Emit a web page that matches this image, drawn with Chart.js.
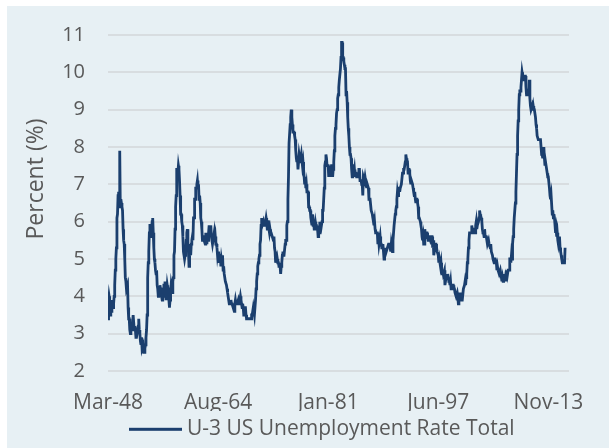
<!DOCTYPE html>
<html>
<head>
<meta charset="utf-8">
<script src="https://cdn.jsdelivr.net/npm/chart.js@4"></script>
<style>
  html, body { margin: 0; padding: 0; background: #ffffff; overflow: hidden; }
  #wrap { position: absolute; left: 7px; top: 6px; width: 602px; height: 442px; background: #e7f0f4; }
  canvas { display: block; }
</style>
</head>
<body>
<div id="wrap"><canvas id="chart" width="602" height="442"></canvas></div>
<script>
// monthly U-3 rate, seasonally adjusted, starting Jan 1948
const rate1940s = [
  3.4,3.8,4.0,3.9,3.5,3.6,3.6,3.9,3.8,3.7,3.8,4.0,
  4.3,4.7,5.0,5.3,6.1,6.2,6.7,6.8,6.6,7.9,6.4,6.6
];
const rate1950s = [
  6.5,6.4,6.3,5.8,5.5,5.4,5.0,4.5,4.4,4.2,4.2,4.3,
  3.7,3.4,3.4,3.1,3.0,3.2,3.1,3.1,3.3,3.5,3.5,3.1,
  3.2,3.1,2.9,2.9,3.0,3.0,3.2,3.4,3.1,3.0,2.8,2.7,
  2.9,2.6,2.6,2.7,2.5,2.5,2.6,2.7,2.9,3.1,3.5,4.5,
  4.9,5.2,5.7,5.9,5.9,5.6,5.8,6.0,6.1,5.7,5.3,5.0,
  4.9,4.7,4.6,4.7,4.3,4.2,4.0,4.2,4.1,4.3,4.2,4.2,
  4.0,3.9,4.2,4.0,4.3,4.3,4.4,4.1,3.9,3.9,4.3,4.2,
  4.2,3.9,3.7,3.9,4.1,4.3,4.2,4.1,4.4,4.5,5.1,5.2,
  5.8,6.4,6.7,7.4,7.4,7.3,7.5,7.4,7.1,6.7,6.2,6.2,
  6.0,5.9,5.6,5.2,5.1,5.0,5.1,5.2,5.5,5.7,5.8,5.3
];
const rate1960s = [
  5.2,4.8,5.4,5.2,5.1,5.4,5.5,5.6,5.5,6.1,6.1,6.6,
  6.6,6.9,6.9,7.0,7.1,6.9,7.0,6.6,6.7,6.5,6.1,6.0,
  5.8,5.5,5.6,5.6,5.5,5.5,5.4,5.7,5.6,5.4,5.7,5.5,
  5.7,5.9,5.7,5.7,5.9,5.6,5.6,5.4,5.5,5.5,5.7,5.5,
  5.6,5.4,5.4,5.3,5.1,5.2,4.9,5.0,5.1,5.1,4.8,5.0,
  4.9,5.1,4.7,4.8,4.6,4.6,4.4,4.4,4.3,4.2,4.1,4.0,
  4.0,3.8,3.8,3.8,3.9,3.8,3.8,3.8,3.7,3.7,3.6,3.8,
  3.9,3.8,3.8,3.8,3.8,3.9,3.8,3.8,3.8,4.0,3.9,3.8,
  3.7,3.8,3.7,3.5,3.5,3.7,3.7,3.5,3.4,3.4,3.4,3.4,
  3.4,3.4,3.4,3.4,3.4,3.5,3.5,3.5,3.7,3.7,3.5,3.5
];
const rate1970s = [
  3.9,4.2,4.4,4.6,4.8,4.9,5.0,5.1,5.4,5.5,5.9,6.1,
  5.9,5.9,6.0,5.9,5.9,5.9,6.0,6.1,6.0,5.8,6.0,6.0,
  5.8,5.7,5.8,5.7,5.7,5.7,5.6,5.6,5.5,5.6,5.3,5.2,
  4.9,5.0,4.9,5.0,4.9,4.9,4.8,4.8,4.8,4.6,4.8,4.9,
  5.1,5.2,5.1,5.1,5.1,5.4,5.5,5.5,5.9,6.0,6.6,7.2,
  8.1,8.1,8.6,8.8,9.0,8.8,8.6,8.4,8.4,8.4,8.3,8.2,
  7.9,7.7,7.6,7.7,7.4,7.6,7.8,7.8,7.6,7.7,7.8,7.8,
  7.5,7.6,7.4,7.2,7.0,7.2,6.9,7.0,6.8,6.8,6.8,6.4,
  6.4,6.3,6.3,6.1,6.0,5.9,6.2,5.9,6.0,5.8,5.9,6.0,
  5.9,5.9,5.8,5.8,5.6,5.7,5.7,6.0,5.9,6.0,5.9,6.0
];
const rate1980s = [
  6.3,6.3,6.3,6.9,7.5,7.6,7.8,7.7,7.5,7.5,7.5,7.2,
  7.5,7.4,7.4,7.2,7.5,7.5,7.2,7.4,7.6,7.9,8.3,8.5,
  8.6,8.9,9.0,9.3,9.4,9.6,9.8,9.8,10.1,10.4,10.8,10.8,
  10.4,10.4,10.3,10.2,10.1,10.1,9.4,9.5,9.2,8.8,8.5,8.3,
  8.0,7.8,7.8,7.7,7.4,7.2,7.5,7.5,7.3,7.4,7.2,7.3,
  7.3,7.2,7.2,7.3,7.2,7.4,7.4,7.1,7.1,7.1,7.0,7.0,
  6.7,7.2,7.2,7.1,7.2,7.2,7.0,6.9,7.0,7.0,6.9,6.6,
  6.6,6.6,6.6,6.3,6.3,6.2,6.1,6.0,5.9,6.0,5.8,5.7,
  5.7,5.7,5.7,5.4,5.6,5.4,5.4,5.6,5.4,5.4,5.3,5.3,
  5.4,5.2,5.0,5.2,5.2,5.3,5.2,5.2,5.3,5.3,5.4,5.4
];
const rate1990s = [
  5.4,5.3,5.2,5.4,5.4,5.2,5.5,5.7,5.9,5.9,6.2,6.3,
  6.4,6.6,6.8,6.7,6.9,6.9,6.8,6.9,6.9,7.0,7.0,7.3,
  7.3,7.4,7.4,7.4,7.6,7.8,7.7,7.6,7.6,7.3,7.4,7.4,
  7.3,7.1,7.0,7.1,7.1,7.0,6.9,6.8,6.7,6.8,6.6,6.5,
  6.6,6.6,6.5,6.4,6.1,6.1,6.1,6.0,5.9,5.8,5.6,5.5,
  5.6,5.4,5.4,5.8,5.6,5.6,5.7,5.7,5.6,5.5,5.6,5.6,
  5.6,5.5,5.5,5.6,5.6,5.3,5.5,5.1,5.2,5.2,5.4,5.4,
  5.3,5.2,5.2,5.1,4.9,5.0,4.9,4.8,4.9,4.7,4.6,4.7,
  4.6,4.6,4.7,4.3,4.4,4.5,4.5,4.5,4.6,4.5,4.4,4.4,
  4.3,4.4,4.2,4.3,4.2,4.3,4.3,4.2,4.2,4.1,4.1,4.0
];
const rate2000s = [
  4.0,4.1,4.0,3.8,4.0,4.0,4.0,4.1,3.9,3.9,3.9,3.9,
  4.2,4.2,4.3,4.4,4.3,4.5,4.6,4.9,5.0,5.3,5.5,5.7,
  5.7,5.7,5.7,5.9,5.8,5.8,5.8,5.7,5.7,5.7,5.9,6.0,
  5.8,5.9,5.9,6.0,6.1,6.3,6.2,6.1,6.1,6.0,5.8,5.7,
  5.7,5.6,5.8,5.6,5.6,5.6,5.5,5.4,5.4,5.5,5.4,5.4,
  5.3,5.4,5.2,5.2,5.1,5.0,5.0,4.9,5.0,5.0,5.0,4.9,
  4.7,4.8,4.7,4.7,4.6,4.6,4.7,4.7,4.5,4.4,4.5,4.4,
  4.6,4.5,4.4,4.5,4.4,4.6,4.7,4.6,4.7,4.7,4.7,5.0,
  5.0,4.9,5.1,5.0,5.4,5.6,5.8,6.1,6.1,6.5,6.8,7.3,
  7.8,8.3,8.7,9.0,9.4,9.5,9.5,9.6,9.8,10.0,9.9,9.9
];
const rate2010s = [
  9.8,9.8,9.9,9.9,9.6,9.4,9.4,9.5,9.5,9.4,9.8,9.3,
  9.1,9.0,9.0,9.1,9.0,9.1,9.0,9.0,9.0,8.8,8.6,8.5,
  8.3,8.3,8.2,8.2,8.2,8.2,8.2,8.0,7.8,7.8,7.7,7.9,
  8.0,7.7,7.5,7.6,7.5,7.5,7.3,7.2,7.2,7.2,6.9,6.7,
  6.6,6.7,6.7,6.2,6.3,6.1,6.2,6.1,5.9,5.7,5.8,5.6,
  5.7,5.5,5.4,5.4,5.6,5.3,5.2,5.1,5.0,4.9,4.9,4.9,
  4.9,4.9,5.3
];

const rates = [].concat(rate1940s, rate1950s, rate1960s, rate1970s, rate1980s, rate1990s, rate2000s, rate2010s);

// x tick positions (month index from first observation) and their labels
const tickIndex = [0, 197, 394, 591, 788];
const tickLabels = ['Mar-48', 'Aug-64', 'Jan-81', 'Jun-97', 'Nov-13'];

const yTicks = [2, 3, 4, 5, 6, 7, 8, 9, 10, 11];

const seriesName = 'U-3 US Unemployment Rate Total';
const axisTitle = 'Percent (%)';

const points = rates.map((v, i) => ({ x: i, y: v }));

const lineColor = '#1b3f6e';
const textGrey = '#595959';
const fontFamily = '"Open Sans", sans-serif';

// y title sits a bit above the axis middle, and the legend is offset to the right,
// so both are drawn here instead of by the built-in title/legend
const extrasPlugin = {
  id: 'extras',
  afterDraw(chart) {
    const ctx = chart.ctx;
    ctx.save();
    ctx.fillStyle = textGrey;
    ctx.font = '23px ' + fontFamily;
    ctx.textAlign = 'center';
    ctx.textBaseline = 'middle';
    ctx.translate(29, 173);
    ctx.rotate(-Math.PI / 2);
    ctx.fillText(axisTitle, 0, 0);
    ctx.restore();

    ctx.save();
    ctx.fillStyle = lineColor;
    ctx.fillRect(122, 421.8, 53, 3);
    ctx.fillStyle = textGrey;
    ctx.font = '21px ' + fontFamily;
    ctx.textAlign = 'left';
    ctx.textBaseline = 'middle';
    ctx.fillText(seriesName, 180, 423);
    ctx.restore();
  }
};

new Chart(document.getElementById('chart'), {
  type: 'line',
  data: {
    datasets: [{
      label: seriesName,
      data: points,
      borderColor: lineColor,
      backgroundColor: lineColor,
      borderWidth: 2.8,
      pointRadius: 0,
      tension: 0
    }]
  },
  options: {
    responsive: false,
    animation: false,
    layout: { padding: { left: 0, right: 40, top: 29, bottom: 37 } },
    plugins: {
      tooltip: { enabled: false },
      legend: { display: false }
    },
    scales: {
      x: {
        type: 'linear',
        min: 0,
        max: 825,
        grid: { display: false },
        border: { display: false },
        afterFit: (scale) => { scale.height = 40; },
        afterBuildTicks: (scale) => {
          scale.ticks = tickIndex.map(v => ({ value: v }));
        },
        ticks: {
          color: textGrey,
          font: { family: fontFamily, size: 21 },
          padding: 11,
          maxRotation: 0,
          autoSkip: false,
          callback: (v) => tickLabels[tickIndex.indexOf(v)]
        }
      },
      y: {
        min: 2,
        max: 11,
        afterFit: (scale) => {
          scale.width = 101;
          // tick padding is horizontal here; keep it from pushing the plot top down
          scale.paddingTop = 12;
          scale.paddingBottom = 12;
        },
        afterBuildTicks: (scale) => {
          scale.ticks = yTicks.map(v => ({ value: v }));
        },
        grid: { color: '#d8dde0', lineWidth: 2, drawTicks: false },
        border: { display: false },
        ticks: {
          color: textGrey,
          font: { family: fontFamily, size: 20 },
          padding: 23
        }
      }
    }
  },
  plugins: [extrasPlugin]
});
</script>
</body>
</html>
